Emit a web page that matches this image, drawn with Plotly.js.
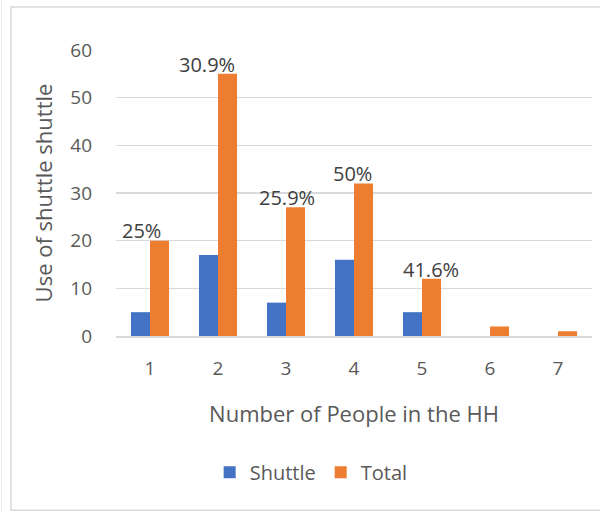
<!DOCTYPE html>
<html>
<head>
<meta charset="utf-8">
<script src="https://cdn.plot.ly/plotly-3.0.1.min.js"></script>
<style>html,body{margin:0;padding:0;background:#fff;}#chart{width:600px;height:512px;}</style>
</head>
<body>
<div id="chart"></div>
<script>
const categories = ['1', '2', '3', '4', '5', '6', '7'];
const shuttle = [5, 17, 7, 16, 5, 0, 0];
const total = [20, 55, 27, 32, 12, 2, 1];
const shareLabels = ['25%', '30.9%', '25.9%', '50%', '41.6%'];
const shareCats = [1, 2, 3, 4, 5];
const shareOffsets = [-0.13, -0.16, 0.01, -0.02, 0.13];
const yTicks = [0, 10, 20, 30, 40, 50, 60];

const textColor = '#595959';
const font = 'Open Sans, Liberation Sans, sans-serif';

const traces = [
  {type: 'bar', name: 'Shuttle', x: categories.map(Number), y: shuttle,
   marker: {color: '#4472C4'}},
  {type: 'bar', name: 'Total', x: categories.map(Number), y: total,
   marker: {color: '#ED7D31'}}
];

const annotations = shareLabels.map((t, i) => ({
  text: t, x: shareCats[i] + shareOffsets[i], y: total[shareCats[i] - 1] - 1.2,
  xref: 'x', yref: 'y', xanchor: 'center', yanchor: 'bottom', showarrow: false,
  font: {family: font, size: 20, color: '#404040'}
}));

const layout = {
  width: 600, height: 512,
  margin: {l: 116, r: 8, t: 50, b: 176},
  paper_bgcolor: '#fff', plot_bgcolor: '#fff',
  barmode: 'group', bargap: 0.44, bargroupgap: 0,
  font: {family: font, color: textColor},
  showlegend: true,
  legend: {orientation: 'h', x: 0.41, xanchor: 'center', y: -0.476, yanchor: 'middle',
           font: {family: font, size: 20, color: textColor}, itemwidth: 30, traceorder: 'normal'},
  xaxis: {
    range: [0.5, 7.5], tickvals: categories.map(Number), ticktext: categories,
    showgrid: false, zeroline: false, showline: true, linecolor: '#D9D9D9', linewidth: 1.5,
    ticks: '', tickfont: {family: font, size: 19, color: textColor}, ticklabelstandoff: 15,
    title: {text: 'Number of People in the HH', font: {family: font, size: 22, color: textColor}, standoff: 26}
  },
  yaxis: {
    range: [0, 60], tickvals: yTicks, ticktext: yTicks.map(String),
    showgrid: true, gridcolor: '#D9D9D9', gridwidth: 1.2, zeroline: false, showline: false,
    ticks: '', tickfont: {family: font, size: 19, color: textColor}, ticklabelstandoff: 23,
    title: {text: 'Use of shuttle shuttle', font: {family: font, size: 22, color: textColor}, standoff: 11}
  },
  annotations: annotations,
  shapes: [
    {type: 'rect', xref: 'paper', yref: 'paper', x0: -0.2206, x1: 1.05, y0: -0.609, y1: 1.150,
     line: {color: '#D9D9D9', width: 1.5}},
    {type: 'line', xref: 'paper', yref: 'paper', x0: -0.2405, x1: -0.2405, y0: -0.62, y1: 1.2,
     line: {color: '#EBEBEB', width: 1}}
  ]
};

Plotly.newPlot('chart', traces, layout, {displayModeBar: false, staticPlot: true});
</script>
</body>
</html>
